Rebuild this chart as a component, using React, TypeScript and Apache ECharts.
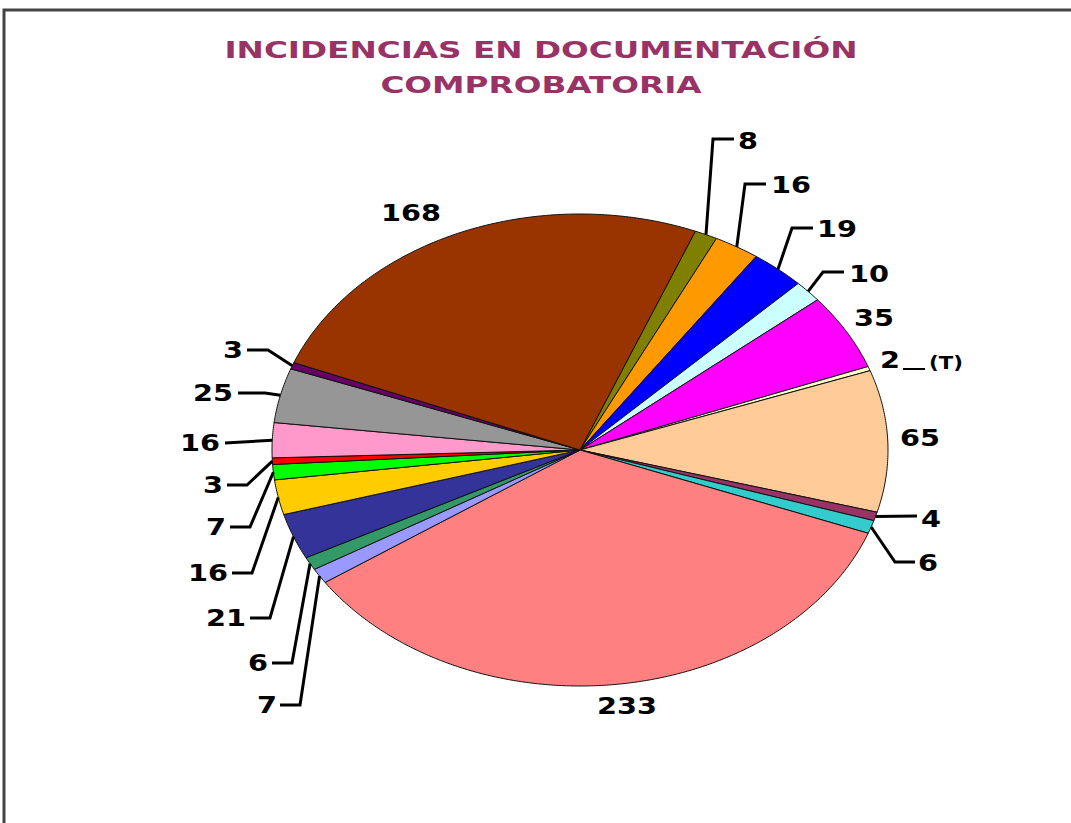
import React, { useEffect, useRef } from 'react';
import * as echarts from 'echarts';

// ---- data ----
const titleLines = ['INCIDENCIAS EN DOCUMENTACIÓN', 'COMPROBATORIA'];
// slices in clockwise order, starting just right of the top
const counts = [8, 16, 19, 10, 35, 2, 65, 4, 6, 233, 7, 6, 21, 16, 7, 3, 16, 25, 3, 168];
const labelSuffix = ['', '', '', '', '', '(T)', '', '', '', '', '', '', '', '', '', '', '', '', '', ''];
const sliceColors = [
  '#808000', '#FF9900', '#0000FF', '#CCFFFF', '#FF00FF', '#FFFFCC', '#FFCC99', '#993366',
  '#33CCCC', '#FF8080', '#9999FF', '#339966', '#333399', '#FFCC00', '#00FF00', '#FF0000',
  '#FF99CC', '#969696', '#660066', '#993300',
];

// ---- layout ----
const PIE = { cx: 580, cy: 450, rx: 308, ry: 236, startDeg: 22 };
const TEXT_SCALE = 1.25;
const TITLE_SCALE = 1.42;
type Place = { pos: [number, number]; align: 'left' | 'right' | 'center'; bend?: [number, number][]; tail?: { line: [number, number][]; pos: [number, number] } };
const placements: Place[] = [
  { pos: [738, 141], align: 'left', bend: [[713, 139], [734, 139]] },
  { pos: [771, 185], align: 'left', bend: [[745, 184], [766, 184]] },
  { pos: [817, 229], align: 'left', bend: [[792, 228], [813, 228]] },
  { pos: [849, 274], align: 'left', bend: [[823, 272], [844, 272]] },
  { pos: [874, 318], align: 'center' },
  { pos: [880, 360], align: 'left', tail: { line: [[903, 369], [925, 369]], pos: [929, 363] } },
  { pos: [920, 438], align: 'center' },
  { pos: [921, 519], align: 'left', bend: [[917, 516]] },
  { pos: [918, 563], align: 'left', bend: [[895, 562], [915, 562]] },
  { pos: [627, 706], align: 'center' },
  { pos: [277, 705], align: 'right', bend: [[300, 705], [280, 705]] },
  { pos: [268, 663], align: 'right', bend: [[292, 663], [272, 663]] },
  { pos: [246, 618], align: 'right', bend: [[270, 618], [250, 618]] },
  { pos: [228, 573], align: 'right', bend: [[252, 573], [232, 573]] },
  { pos: [226, 527], align: 'right', bend: [[250, 527], [230, 527]] },
  { pos: [223, 485], align: 'right', bend: [[247, 485], [227, 485]] },
  { pos: [220, 443], align: 'right', bend: [[225, 443]] },
  { pos: [233, 393], align: 'right', bend: [[265, 393], [238, 393]] },
  { pos: [243, 350], align: 'right', bend: [[268, 350], [247, 350]] },
  { pos: [411, 213], align: 'center' },
];

const FONT = 'DejaVu Sans';

export default function App() {
  const ref = useRef<HTMLDivElement>(null);
  useEffect(() => {
    document.body.style.margin = '0';
    const chart = echarts.init(ref.current!, null, { renderer: 'svg' });
    const total = counts.reduce((a, b) => a + b, 0);
    const pt = (deg: number): [number, number] => {
      const r = (deg * Math.PI) / 180;
      return [PIE.cx + PIE.rx * Math.sin(r), PIE.cy - PIE.ry * Math.cos(r)];
    };
    const renderItem = (params: any, api: any) => {
      const i = params.dataIndex;
      let before = 0;
      for (let k = 0; k < i; k++) before += counts[k];
      const v = api.value(0);
      const a0 = PIE.startDeg + (before / total) * 360;
      const a1 = a0 + (v / total) * 360;
      const pts: [number, number][] = [[PIE.cx, PIE.cy]];
      const n = Math.max(2, Math.ceil((a1 - a0) / 0.5));
      for (let j = 0; j <= n; j++) pts.push(pt(a0 + ((a1 - a0) * j) / n));
      const children: any[] = [
        {
          type: 'polygon',
          shape: { points: pts },
          style: { fill: sliceColors[i], stroke: '#111', lineWidth: 1, lineJoin: 'round' },
        },
      ];
      const p = placements[i];
      if (p.bend) {
        const mid = pt((a0 + a1) / 2);
        children.push({
          type: 'polyline',
          shape: { points: [mid, ...p.bend] },
          style: { stroke: '#000', lineWidth: 3, fill: null },
          z2: 10,
        });
      }
      children.push({
        type: 'text',
        x: p.pos[0],
        y: p.pos[1],
        scaleX: TEXT_SCALE,
        z2: 20,
        style: {
          text: String(v),
          fontFamily: FONT,
          fontWeight: 'bold',
          fontSize: 23,
          fill: '#000',
          align: p.align,
          verticalAlign: 'middle',
        },
      });
      if (p.tail) {
        children.push({
          type: 'polyline',
          shape: { points: p.tail.line },
          style: { stroke: '#000', lineWidth: 2, fill: null },
          z2: 10,
        });
        children.push({
          type: 'text',
          x: p.tail.pos[0],
          y: p.tail.pos[1],
          scaleX: TEXT_SCALE,
          z2: 20,
          style: {
            text: labelSuffix[i],
            fontFamily: FONT,
            fontWeight: 'bold',
            fontSize: 17,
            fill: '#000',
            align: 'left',
            verticalAlign: 'middle',
          },
        });
      }
      return { type: 'group', children };
    };

    chart.setOption({
      animation: false,
      backgroundColor: '#fff',
      graphic: [
        {
          type: 'polyline',
          shape: { points: [[4, 900], [4, 10], [1200, 10]] },
          style: { fill: null, stroke: '#444', lineWidth: 3 },
        },
        ...titleLines.map((t, k) => ({
          type: 'text',
          x: 541,
          y: 50 + k * 35,
          scaleX: TITLE_SCALE,
          style: {
            text: t,
            fontFamily: FONT,
            fontWeight: 'bold',
            fontSize: 23,
            fill: '#993366',
            align: 'center',
            verticalAlign: 'middle',
          },
        })),
      ],
      series: [
        {
          type: 'custom',
          coordinateSystem: 'none',
          data: counts,
          renderItem,
        },
      ],
    });
    return () => chart.dispose();
  }, []);
  return <div ref={ref} style={{ width: 1071, height: 823 }} />;
}
